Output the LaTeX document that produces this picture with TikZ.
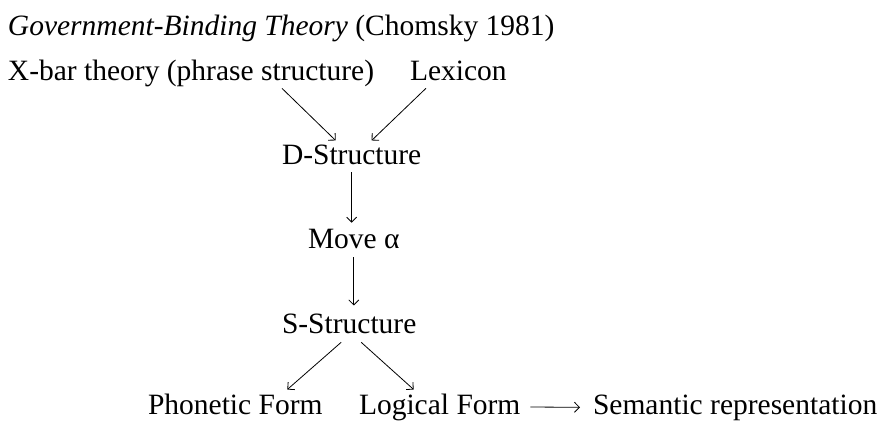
\documentclass[tikz,border=0pt]{standalone}
\usepackage{fontspec}
\setmainfont{Liberation Serif}
\newfontfamily\gbfont{Liberation Serif}
\usetikzlibrary{arrows.meta, positioning, calc}
\tikzset{
  lbl/.style={anchor=base west, inner sep=0pt, outer sep=0pt,
    font=\gbfont\fontsize{29.5}{34}\selectfont},
  arr/.style={-{Straight Barb[length=5pt,width=10pt]}, line width=0.8pt},
}

\begin{document}
\begin{tikzpicture}[x=1pt, y=1pt]
  \useasboundingbox (0,0) rectangle (884,-421);
  % Heading
  \node[lbl] (title) at (8,-35) {\textit{Government-Binding Theory} (Chomsky 1981)};
  % Inputs
  \node[lbl] (xbar) at (8,-80) {X-bar theory (phrase structure)};
  \node[lbl] (lex) at (410,-80) {Lexicon};
  % Derivation
  \node[lbl] (dstr) at (282,-164) {D-Structure};
  \node[lbl] (move) at (308,-248) {Move α};
  \node[lbl] (sstr) at (282,-333) {S-Structure};
  % Interface levels
  \node[lbl] (phon) at (148,-414) {Phonetic Form};
  \node[lbl] (logic) at (359,-414) {Logical Form};
  \node[lbl] (sem) at (593,-414) {Semantic representation};
  % Into D-Structure
  \draw[arr] ([xshift=274pt,yshift=-2pt]xbar.south west)
    -- ([xshift=-16pt,yshift=4pt]dstr.north);
  \draw[arr] ([xshift=16pt,yshift=-8pt]lex.south west)
    -- ([xshift=20pt,yshift=4pt]dstr.north);
  % Down the middle
  \draw[arr, shorten <=8pt, shorten >=6pt] (dstr.south) -- (dstr.south |- move.north);
  \draw[arr, shorten <=9pt, shorten >=8pt] (move.south) -- (move.south |- sstr.north);
  % Split at S-Structure
  \draw[arr] ([xshift=-8pt,yshift=-9pt]sstr.south)
    -- ([xshift=52pt,yshift=4pt]phon.north);
  \draw[arr] ([xshift=12pt,yshift=-9pt]sstr.south)
    -- ([xshift=-26pt,yshift=4pt]logic.north);
  \draw[arr, shorten <=10pt, shorten >=13pt] (logic.east) -- (sem.west);
\end{tikzpicture}
\end{document}
